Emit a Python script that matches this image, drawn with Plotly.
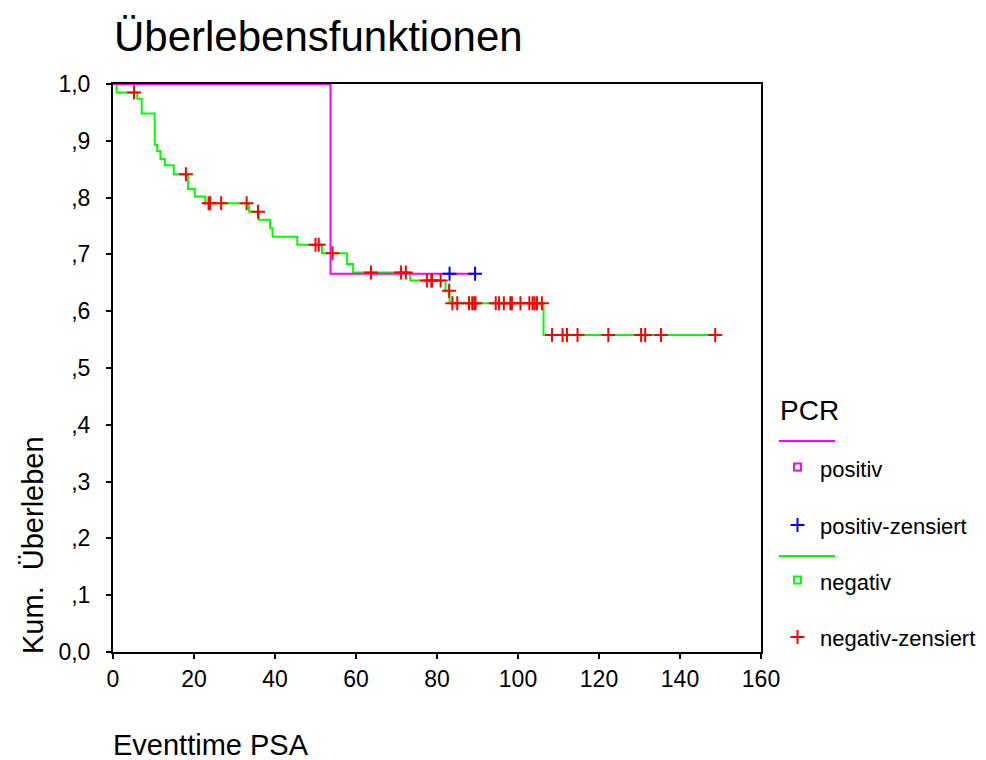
import plotly.graph_objects as go

# ---- data ----
# negativ group: Kaplan-Meier step function (time, survival after step)
neg_time = [0, 0.9, 6.0, 7.1, 10.3, 10.9, 11.7, 12.8, 15.0, 18.5, 20.2, 22.8, 33.6, 36.0,
            38.8, 39.4, 45.5, 51.6, 57.8, 59.3, 73.4, 82.1, 83.1, 106.3, 148.7]
neg_surv = [1.0, 0.985, 0.974, 0.948, 0.893, 0.882, 0.868, 0.857, 0.841, 0.815, 0.802, 0.790,
            0.775, 0.761, 0.746, 0.731, 0.717, 0.702, 0.683, 0.668, 0.654, 0.636, 0.614, 0.558, 0.558]
# negativ censored
neg_cens_time = [5.2, 18.0, 23.6, 24.0, 26.7, 33.0, 35.8, 50.0, 50.8, 54.2, 63.7, 71.1, 72.3,
                 77.5, 78.6, 78.8, 80.9, 83.0,
                 83.8, 85.0, 87.9, 88.7, 89.2, 89.5, 94.5, 95.3, 96.5, 98.1, 98.5, 100.6,
                 102.8, 103.6, 104.1, 104.7, 105.9,
                 108.4, 111.0, 112.1, 114.7, 122.3, 130.4, 131.4, 135.3, 148.7]
neg_cens_surv = [0.985, 0.841, 0.790, 0.790, 0.790, 0.790, 0.775, 0.717, 0.717, 0.702, 0.668,
                 0.668, 0.668, 0.654, 0.654, 0.654, 0.654, 0.636,
                 0.614, 0.614, 0.614, 0.614, 0.614, 0.614, 0.614, 0.614, 0.614, 0.614, 0.614,
                 0.614, 0.614, 0.614, 0.614, 0.614, 0.614,
                 0.558, 0.558, 0.558, 0.558, 0.558, 0.558, 0.558, 0.558, 0.558]
# positiv group
pos_time = [0, 53.7, 89.4]
pos_surv = [1.0, 0.666, 0.666]
pos_cens_time = [83.1, 89.4]
pos_cens_surv = [0.666, 0.666]

x_ticks = [0, 20, 40, 60, 80, 100, 120, 140, 160]
y_ticks = [0, 0.1, 0.2, 0.3, 0.4, 0.5, 0.6, 0.7, 0.8, 0.9, 1.0]
y_ticktext = ["0,0", ",1", ",2", ",3", ",4", ",5", ",6", ",7", ",8", ",9", "1,0"]

FONT = "Arial, Liberation Sans, sans-serif"
GREEN, MAGENTA, BLUE, RED = "#00FF00", "#FF00FF", "#0000FF", "#FF0000"

# page offset (body margin) and plot box in window pixels
OX, OY = 8, 8
PL, PR, PT, PB = 113, 761, 84, 652
W, H = 986 - OX, 760 - OY
L, T = PL - OX, PT - OY
R, B = W - (PR - OX), H - (PB - OY)
pw, ph = PR - PL, PB - PT


def px(x):
    return (x - PL) / pw


def py(y):
    return (PB - y) / ph


fig = go.Figure()
fig.add_trace(go.Scatter(x=neg_time, y=neg_surv, mode="lines", line=dict(color=GREEN, width=2, shape="hv"),
                         showlegend=False, hoverinfo="skip"))
fig.add_trace(go.Scatter(x=pos_time, y=pos_surv, mode="lines", line=dict(color=MAGENTA, width=2, shape="hv"),
                         showlegend=False, hoverinfo="skip"))
fig.add_trace(go.Scatter(x=neg_cens_time, y=neg_cens_surv, mode="markers",
                         marker=dict(symbol="cross-thin", size=10, color=RED, line=dict(color=RED, width=2)),
                         showlegend=False, cliponaxis=False))
fig.add_trace(go.Scatter(x=pos_cens_time, y=pos_cens_surv, mode="markers",
                         marker=dict(symbol="cross-thin", size=10, color=BLUE, line=dict(color=BLUE, width=2)),
                         showlegend=False, cliponaxis=False))

axis_common = dict(showline=True, linecolor="black", linewidth=2, mirror=True, showgrid=False,
                   zeroline=False, ticks="outside", ticklen=5, tickwidth=2, tickcolor="black",
                   tickfont=dict(family=FONT, size=23, color="black"), layer="below traces")
fig.update_xaxes(range=[0, 160], tickvals=x_ticks, ticktext=[str(v) for v in x_ticks], **axis_common)
fig.update_yaxes(range=[0, 1], tickvals=y_ticks, ticktext=y_ticktext, ticklabelstandoff=11, **axis_common)

ann = []
ann.append(dict(text="Überlebensfunktionen", x=px(112), y=py(37), xanchor="left", yanchor="middle",
                font=dict(family=FONT, size=42, color="black")))
ann.append(dict(text="Eventtime PSA", x=px(111), y=py(745), xanchor="left", yanchor="middle",
                font=dict(family=FONT, size=29, color="black")))
ann.append(dict(text="Kum.\u00a0 Überleben", x=px(33), y=py(545), xanchor="center", yanchor="middle",
                textangle=-90, font=dict(family=FONT, size=29, color="black")))
# legend
ann.append(dict(text="PCR", x=px(778), y=py(410), xanchor="left", yanchor="middle",
                font=dict(family=FONT, size=28, color="black")))
leg_items = [("positiv", 469), ("positiv-zensiert", 526), ("negativ", 582), ("negativ-zensiert", 638)]
for txt, yy in leg_items:
    ann.append(dict(text=txt, x=px(818), y=py(yy), xanchor="left", yanchor="middle",
                    font=dict(family=FONT, size=22, color="black")))
for a in ann:
    a.update(xref="paper", yref="paper", showarrow=False)

shapes = []
# legend lines
shapes.append(dict(type="line", x0=px(779), x1=px(835), y0=py(441), y1=py(441), line=dict(color=MAGENTA, width=2)))
shapes.append(dict(type="line", x0=px(779), x1=px(835), y0=py(556), y1=py(556), line=dict(color=GREEN, width=2)))
# legend squares
for cy, col in [(467, MAGENTA), (580, GREEN)]:
    shapes.append(dict(type="rect", x0=px(794), x1=px(801), y0=py(cy - 3.5), y1=py(cy + 3.5),
                       line=dict(color=col, width=2)))
# legend crosses
for cy, col in [(525, BLUE), (637, RED)]:
    shapes.append(dict(type="line", x0=px(790.5), x1=px(804.5), y0=py(cy), y1=py(cy), line=dict(color=col, width=2)))
    shapes.append(dict(type="line", x0=px(797.5), x1=px(797.5), y0=py(cy - 7), y1=py(cy + 7), line=dict(color=col, width=2)))
for s in shapes:
    s.update(xref="paper", yref="paper")

fig.update_layout(width=W, height=H, margin=dict(l=L, r=R, t=T, b=B, autoexpand=False),
                  paper_bgcolor="white", plot_bgcolor="white", annotations=ann, shapes=shapes,
                  showlegend=False, font=dict(family=FONT))

fig.write_html("out.html")
